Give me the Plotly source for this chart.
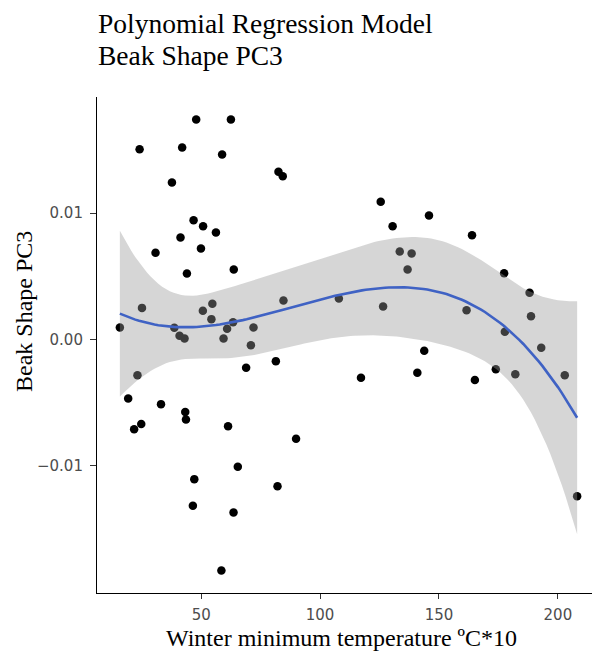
import numpy as np
import plotly.graph_objects as go

temp = [47.9, 62.5, 24.1, 42.0, 58.8, 37.7, 46.8, 50.8, 56.2, 41.3,
        30.8, 49.9, 44.0, 63.7, 25.1, 50.7, 54.7, 54.3, 63.4, 60.9,
        72.0, 15.8, 38.7, 40.9, 43.0, 59.4, 70.9, 68.9, 23.2, 19.3,
        33.1, 43.3, 43.6, 24.8, 21.8, 61.3, 65.4, 47.1, 46.5, 63.6,
        58.5, 82.5, 84.3, 125.5, 145.8, 130.5, 133.5, 138.5, 136.8, 84.6,
        107.9, 126.5, 81.4, 117.2, 143.8, 140.9, 163.9, 177.4, 188.1, 161.6,
        188.7, 177.7, 193.0, 165.1, 173.9, 182.1, 202.9, 208.1, 89.9, 82.1]
pc3 = [0.01739, 0.01739, 0.01504, 0.01518, 0.01462, 0.01241, 0.00943, 0.00896, 0.00846, 0.00806,
       0.00685, 0.00719, 0.00522, 0.00553, 0.00250, 0.00227, 0.00282, 0.00161, 0.00137, 0.00085,
       0.00095, 0.00095, 0.00092, 0.00029, 0.00008, 0.00008, -0.00045, -0.00224, -0.00282, -0.00466,
       -0.00511, -0.00574, -0.00632, -0.00669, -0.00709, -0.00685, -0.01006, -0.01104, -0.01315, -0.01368,
       -0.01826, 0.01326, 0.01291, 0.01089, 0.00980, 0.00896, 0.00696, 0.00680, 0.00553, 0.00308,
       0.00324, 0.00261, -0.00171, -0.00303, -0.00089, -0.00263, 0.00825, 0.00524, 0.00369, 0.00232,
       0.00184, 0.00061, -0.00066, -0.00320, -0.00235, -0.00274, -0.00282, -0.01239, -0.00785, -0.01160]

x_ticks = [50, 100, 150, 200]
y_ticks = [-0.01, 0.0, 0.01]
y_tick_labels = ["\u22120.01", "0.00", "0.01"]
title_lines = ["Polynomial Regression Model", "Beak Shape PC3"]
x_title = "Winter minimum temperature ºC*10"
y_title = "Beak Shape PC3"

# Cubic polynomial regression with 95% confidence band (like geom_smooth lm poly 3)
x = np.array(temp)
y = np.array(pc3)
deg = 3
X = np.vander(x, deg + 1)
beta, *_ = np.linalg.lstsq(X, y, rcond=None)
resid = y - X @ beta
dof = len(x) - (deg + 1)
sigma2 = resid @ resid / dof
XtX_inv = np.linalg.inv(X.T @ X)
t_crit = 1.997  # t quantile 0.975, df ~ 66
xg = np.linspace(x.min(), x.max(), 120)
Xg = np.vander(xg, deg + 1)
fit = Xg @ beta
se = np.sqrt(np.einsum('ij,jk,ik->i', Xg, XtX_inv, Xg) * sigma2)
lo = fit - t_crit * se
hi = fit + t_crit * se

fig = go.Figure()
fig.add_trace(go.Scatter(x=temp, y=pc3, mode="markers",
                         marker=dict(color="black", size=8.5, line=dict(width=0)),
                         hoverinfo="skip", showlegend=False))
fig.add_trace(go.Scatter(x=np.concatenate([xg, xg[::-1]]), y=np.concatenate([hi, lo[::-1]]),
                         fill="toself", fillcolor="rgba(153,153,153,0.4)",
                         line=dict(width=0), mode="lines", hoverinfo="skip", showlegend=False))
fig.add_trace(go.Scatter(x=xg, y=fit, mode="lines", line=dict(color="#3F62C4", width=2.6),
                         hoverinfo="skip", showlegend=False))

xr = [x.min(), x.max()]
yr = [min(y.min(), lo.min()), max(y.max(), hi.max())]
xpad = 0.05 * (xr[1] - xr[0])
ypad = 0.05 * (yr[1] - yr[0])

# page body has an 8px margin, so the figure is sized/positioned to compensate
PLOT_W, PLOT_H = 503, 496
title_font = dict(family="Liberation Serif", size=27.5, color="black")
axis_title_font = dict(family="Liberation Serif", size=24, color="black")
annotations = [
    dict(text=title_lines[0], xref="paper", yref="paper", x=0, xanchor="left", xshift=-1,
         y=1 + (97 - 24) / PLOT_H, yanchor="middle", showarrow=False, font=title_font),
    dict(text=title_lines[1], xref="paper", yref="paper", x=0, xanchor="left", xshift=-1,
         y=1 + (97 - 56) / PLOT_H, yanchor="middle", showarrow=False, font=title_font),
    dict(text=x_title, xref="paper", yref="paper", x=(341 - 97) / PLOT_W, xanchor="center",
         y=(593 - 638) / PLOT_H, yanchor="middle", showarrow=False, font=axis_title_font),
    dict(text=y_title, xref="paper", yref="paper", x=(24 - 97) / PLOT_W, xanchor="center",
         y=(593 - 312) / PLOT_H, yanchor="middle", textangle=-90, showarrow=False,
         font=axis_title_font),
]

tick_font = dict(family="DejaVu Sans", size=15, color="#4D4D4D")
fig.update_layout(
    width=592, height=647,
    margin=dict(l=89, r=0, t=89, b=62),
    paper_bgcolor="white", plot_bgcolor="white",
    annotations=annotations,
    xaxis=dict(range=[xr[0] - xpad, xr[1] + xpad], tickvals=x_ticks, automargin=False,
               showgrid=False, zeroline=False, showline=True, linecolor="black", linewidth=1.1,
               ticks="outside", ticklen=5, tickcolor="#333333", tickwidth=1.1,
               ticklabelstandoff=3, tickfont=tick_font),
    yaxis=dict(range=[yr[0] - ypad, yr[1] + ypad], tickvals=y_ticks, ticktext=y_tick_labels,
               automargin=False,
               showgrid=False, zeroline=False, showline=True, linecolor="black", linewidth=1.1,
               ticks="outside", ticklen=6, tickcolor="#333333", tickwidth=1.1,
               ticklabelstandoff=4, tickfont=tick_font),
)

fig.write_html("out.html")
